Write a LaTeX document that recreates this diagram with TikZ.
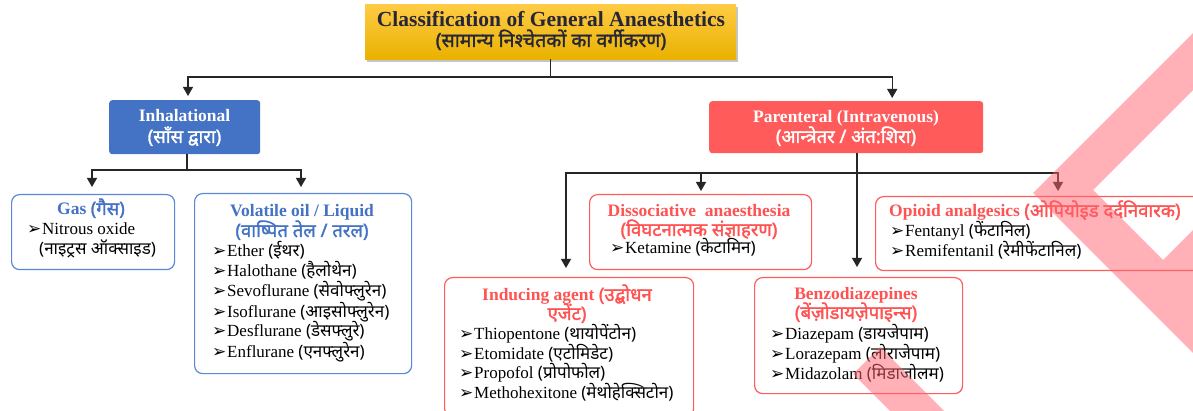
\documentclass[tikz,border=0pt]{standalone}
\usepackage{fontspec}
\setmainfont{Liberation Serif}
\newfontfamily\dev[Script=Devanagari]{Noto Sans}
\newfontfamily\devb[Script=Devanagari,FakeBold=1.6]{Noto Sans}
\newfontfamily\sym{DejaVu Sans}
\usetikzlibrary{arrows.meta,shadows,calc}
\definecolor{gblue}{HTML}{4472C4}
\definecolor{bborder}{HTML}{5A88D6}
\definecolor{gred}{HTML}{FF5B5B}
\definecolor{tred}{HTML}{FF5252}
\definecolor{goldtop}{HTML}{FFCB45}
\definecolor{goldbot}{HTML}{E9B200}
\definecolor{ink}{HTML}{262638}
\definecolor{wm}{HTML}{FF6470}
\newcommand{\Dv}[1]{{\dev\fontsize{17}{20}\selectfont #1}}
\newcommand{\DvB}[1]{{\devb\fontsize{18.5}{20}\selectfont #1}}
\newcommand{\Bul}{\makebox[15pt][l]{\sym\fontsize{17}{20}\selectfont ➢}}
\tikzset{
  txt/.style={inner sep=0pt, text height=12pt, text depth=4pt, font=\fontsize{17}{20}\selectfont},
  item/.style={txt, anchor=west},
  head/.style={txt, anchor=center, font=\bfseries\fontsize{17.5}{20}\selectfont},
  bbox/.style={draw=bborder, line width=1.2pt, rounded corners=8pt, anchor=north west, inner sep=0pt},
  rbox/.style={draw=gred, line width=1.2pt, rounded corners=8pt, anchor=north west, inner sep=0pt},
  fbox/.style={rounded corners=3pt, anchor=north west, inner sep=0pt},
  conn/.style={draw=black!85, line width=1.2pt},
  arr/.style={conn, -{Triangle[length=9pt,width=10pt]}},
}
\begin{document}
\begin{tikzpicture}[x=1pt,y=-1pt]
\useasboundingbox (0,0) rectangle (1193,411);
\clip (0,0) rectangle (1193,411);
\fill[white] (0,0) rectangle (1193,411);

% title
\node[anchor=north west, inner sep=0pt, minimum width=371pt, minimum height=55pt,
  top color=goldtop, bottom color=goldbot,
  drop shadow={shadow xshift=2pt, shadow yshift=-3pt, opacity=0.45}] (title) at (365,4) {};
\node[txt, anchor=center, text=ink, font=\bfseries\fontsize{21.5}{24}\selectfont] (t1) at (551,23) {Classification of General Anaesthetics};
\node[txt, anchor=center, text=ink] (t2) at (551,43) {{\devb\fontsize{19.5}{20}\selectfont (सामान्य निश्चेतकों का वर्गीकरण)}};

% level 1 boxes
\node[fbox, fill=gblue, minimum width=151pt, minimum height=54pt] (inh) at (109,100) {};
\node[head, text=white] (inh1) at (184.5,118) {Inhalational};
\node[head, text=white] (inh2) at (184.5,139) {\DvB{(साँस द्वारा)}};

\node[fbox, fill=gred, minimum width=274pt, minimum height=52pt] (par) at (709,101) {};
\node[head, text=white] (par1) at (846,119) {Parenteral (Intravenous)};
\node[head, text=white] (par2) at (846,139) {\DvB{(आन्त्रेतर / अंत:शिरा)}};

% inhalational children
\node[bbox, minimum width=163pt, minimum height=75pt] (gas) at (11,194) {};
\node[head, text=gblue] (gas1) at (91,211) {Gas \DvB{(गैस)}};
\node[item] (gas2) at (27,231) {\Bul Nitrous oxide};
\node[item] (gas3) at (39,251) {\Dv{(नाइट्रस ऑक्साइड)}};

\node[bbox, minimum width=217pt, minimum height=180pt] (vol) at (194,193) {};
\node[head, text=gblue] (vol1) at (302,213) {Volatile oil / Liquid};
\node[head, text=gblue] (vol2) at (302,233) {\DvB{(वाष्पित तेल / तरल)}};
\node[item] (v1) at (212,253) {\Bul Ether \Dv{(ईथर)}};
\node[item] (v2) at (212,273) {\Bul Halothane \Dv{(हैलोथेन)}};
\node[item] (v3) at (212,293) {\Bul Sevoflurane \Dv{(सेवोफ्लुरेन)}};
\node[item] (v4) at (212,313) {\Bul Isoflurane \Dv{(आइसोफ्लुरेन)}};
\node[item] (v5) at (212,333) {\Bul Desflurane \Dv{(डेसफ्लुरे)}};
\node[item] (v6) at (212,353) {\Bul Enflurane \Dv{(एनफ्लुरेन)}};

% parenteral children
\node[rbox, minimum width=222pt, minimum height=75pt] (dis) at (589,194) {};
\node[head, text=tred] (dis1) at (699,213) {Dissociative\ \ anaesthesia};
\node[head, text=tred] (dis2) at (699,232) {\DvB{(विघटनात्मक संज्ञाहरण)}};
\node[item] (dis3) at (610,250) {\Bul Ketamine \Dv{(केटामिन)}};

\node[rbox, minimum width=249pt, minimum height=139pt] (ind) at (444,277) {};
\node[head, text=tred] (ind1) at (567,297) {Inducing agent \DvB{(उद्बोधन}};
\node[head, text=tred] (ind2) at (567,316) {\DvB{एजेंट)}};
\node[item] (i1) at (459,335) {\Bul Thiopentone \Dv{(थायोपेंटोन)}};
\node[item] (i2) at (459,355) {\Bul Etomidate \Dv{(एटोमिडेट)}};
\node[item] (i3) at (459,374) {\Bul Propofol \Dv{(प्रोपोफोल)}};
\node[item] (i4) at (459,394) {\Bul Methohexitone \Dv{(मेथोहेक्सिटोन)}};

\node[rbox, minimum width=208pt, minimum height=116pt] (ben) at (754,277) {};
\node[head, text=tred] (ben1) at (856,296) {Benzodiazepines};
\node[head, text=tred] (ben2) at (856,315) {\DvB{(बेंज़ोडायज़ेपाइन्स)}};
\node[item] (b1) at (770,335) {\Bul Diazepam \Dv{(डायजेपाम)}};
\node[item] (b2) at (770,355) {\Bul Lorazepam \Dv{(लोराजेपाम)}};
\node[item] (b3) at (770,375) {\Bul Midazolam \Dv{(मिडाजोलम)}};

\node[rbox, minimum width=330pt, minimum height=74pt] (opi) at (875,196) {};
\node[head, text=tred, anchor=west] (opi1) at (889,213) {Opioid analgesics \DvB{(ओपियोइड दर्दनिवारक)}};
\node[item] (o1) at (890,233) {\Bul Fentanyl \Dv{(फेंटानिल)}};
\node[item] (o2) at (890,253) {\Bul Remifentanil \Dv{(रेमीफेंटानिल)}};

% connectors
\coordinate (ya) at (0,77);
\coordinate (yb) at (0,170);
\coordinate (yc) at (0,173);
\draw[conn] (title.south) -- (title.south |- ya);
\draw[arr, shorten >=4pt] (title.south |- ya) -| (inh.north -| 188,0);
\draw[arr, shorten >=3pt] (title.south |- ya) -| ([xshift=46pt]par.north);

\draw[conn] (inh.south -| 187,0) -- (yb -| 187,0);
\draw[arr, shorten >=7pt] (yb -| 187,0) -| (gas.north -| 92,0);
\draw[arr, shorten >=6pt] (yb -| 187,0) -| (vol.north -| 301,0);

\draw[arr, shorten >=10pt] (par.south -| 857,0) -- (ben.north -| 857,0);
\draw[arr, shorten >=9pt] (yc -| 857,0) -| (ind.north -| 566,0);
\draw[arr, shorten >=3pt] (yc -| 701,0) -- (dis.north -| 701,0);
\draw[arr, shorten >=5pt] (yc -| 857,0) -| (opi.north -| 1058,0);

% watermark
\fill[wm, fill opacity=0.5, even odd rule] (1193,33) -- (1033,193) -- (1193,353) -- cycle
  (1093,190) -- (1193,90) -- (1193,230) -- (1163,260) -- cycle;
\fill[wm, fill opacity=0.5] (880,347) -- (944,411) -- (890,411) -- (853,374) -- cycle;
\end{tikzpicture}
\end{document}
